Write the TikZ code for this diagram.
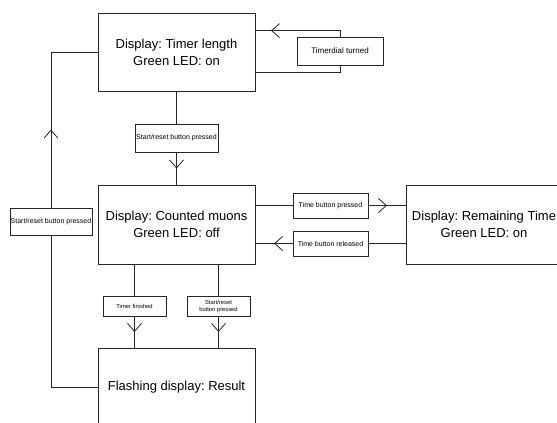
\documentclass[tikz,border=0pt]{standalone}
\usepackage{fontspec}
\setmainfont{Liberation Sans}
\usetikzlibrary{arrows.meta,decorations.markings,calc}
\begin{document}
\frenchspacing
\begin{tikzpicture}[x=1pt,y=-1pt,
  state/.style={draw=black!85, line width=0.8pt, minimum width=157pt, minimum height=78pt, align=center, inner sep=0pt, font=\fontsize{13}{17}\selectfont},
  lbl/.style={draw=black!85, line width=0.8pt, align=center, inner sep=0pt, font=\fontsize{7}{8}\selectfont},
  tiny/.style={font=\fontsize{5.8}{7}\selectfont},
  conn/.style={draw=black!85, line width=0.8pt},
  chev/.style={postaction={decorate,decoration={markings,mark=at position #1 with {\arrow{Straight Barb[length=8pt,width=14pt]}}}}}
]
\useasboundingbox (0,0) rectangle (557,423);

% states
\node[state] (A) at (176.5,52) {Display: Timer length\\Green LED: on};
\node[state, minimum height=79pt] (B) at (176.5,224.5) {Display: Counted muons\\Green LED: off};
\node[state, minimum width=156pt, minimum height=79pt] (C) at (484,224.5) {Display: Remaining Time\\Green LED: on};
\node[state] (D) at (176.5,387) {Flashing display: Result};

% labels
\node[lbl, minimum width=86pt, minimum height=28pt, font=\fontsize{8}{9}\selectfont] (L1) at (340,51) {Timerdial turned};
\node[lbl, minimum width=83pt, minimum height=28pt] (L2) at (176.5,138) {Start/reset button pressed};
\node[lbl, minimum width=75pt, minimum height=25pt] (L3) at (330.5,205.5) {Time button pressed};
\node[lbl, minimum width=75pt, minimum height=25pt] (L4) at (330.5,243.5) {Time button released};
\node[lbl, minimum width=82pt, minimum height=27pt] (L5) at (51,221.5) {Start/reset button pressed};
\node[lbl, tiny, minimum width=63pt, minimum height=20pt] (L6) at (134.5,306) {Timer finished};
\node[lbl, tiny, minimum width=63pt, minimum height=20pt] (L7) at (218.5,306) {Start/reset\\button pressed};

% timerdial loop
\coordinate (t1) at ($(A.north east)+(0,18)$);
\coordinate (t2) at ($(A.south east)+(0,-19)$);
\draw[conn, chev=75pt] (L1.north) |- (t1);
\draw[conn] (L1.south) |- (t2);

% A -> B
\draw[conn] (A.south) -- (L2.north);
\draw[conn, chev=0.5] (L2.south) -- (B.north);

% B <-> C
\draw[conn] (B.east |- L3) -- (L3.west);
\draw[conn, chev=0.5] (L3.east) -- (C.west |- L3);
\draw[conn] (C.west |- L4) -- (L4.east);
\draw[conn, chev=0.5] (L4.west) -- (B.east |- L4);

% B -> D
\draw[conn] (B.south -| L6) -- (L6.north);
\draw[conn, chev=0.5] (L6.south) -- (D.north -| L6);
\draw[conn] (B.south -| L7) -- (L7.north);
\draw[conn, chev=0.5] (L7.south) -- (D.north -| L7);

% D -> A
\draw[conn] (D.west) -| (L5.south);
\draw[conn, chev=78pt] (L5.north) |- (A.west);
\end{tikzpicture}
\end{document}
